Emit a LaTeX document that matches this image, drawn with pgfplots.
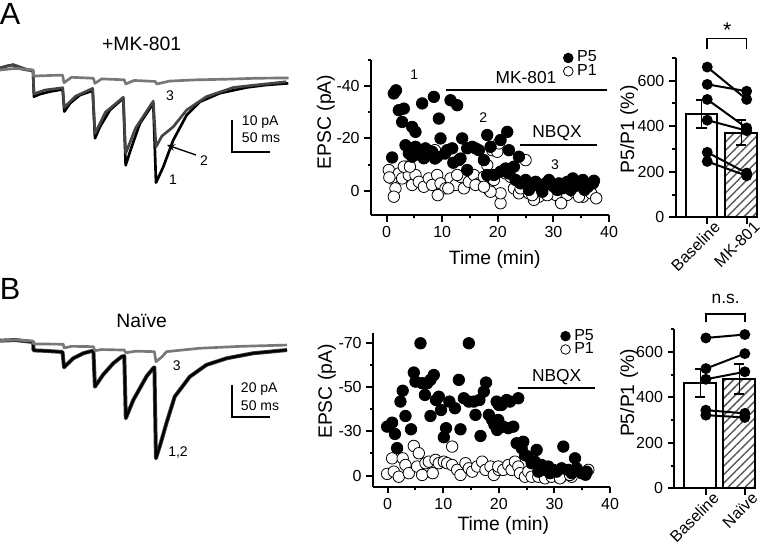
\documentclass[border=0pt]{standalone}
\usepackage{fontspec}
\setmainfont{Liberation Sans}
\usepackage{pgfplots}
\pgfplotsset{compat=1.18}
\usetikzlibrary{patterns.meta,arrows.meta}

\definecolor{tdark}{gray}{0.27}
\definecolor{tlight}{gray}{0.47}
\newcommand\tickf{\fontsize{12}{12}\selectfont}
\newcommand\labf{\fontsize{14.5}{15}\selectfont}
\newcommand\smallf{\fontsize{10.5}{11}\selectfont}

\pgfplotsset{
  prism/.style={
    scale only axis, axis lines*=left, clip=false,
    axis line style={line width=1.5pt},
    tick align=outside, major tick length=5pt, minor tick length=2.5pt,
    every tick/.style={black, line width=1.5pt},
    tick label style={font=\tickf},
    /pgf/number format/assume math mode=true,
    label style={font=\labf},
  },
  catlabels/.style={xticklabel style={xshift=10pt, yshift=2pt, rotate=45, anchor=east}},
  trace/.style={scale only axis, hide axis, clip=false, xmin=0, xmax=385,
    width=217.5pt},
  p5/.style={only marks, mark=*, mark size=4.3pt,
    mark options={fill=black, draw=black, line width=0.6pt}},
  p1/.style={only marks, mark=*, mark size=4.3pt,
    mark options={fill=white, draw=black, line width=0.6pt}},
  leg/.style={
    legend style={draw=none, fill=none, font=\tickf, row sep=0pt,
      nodes={inner sep=0pt, text height=8pt, text depth=2pt},
      /tikz/every odd column/.append style={column sep=3pt}},
    legend cell align=left, reverse legend,
    legend image code/.code={\draw[##1, mark size=3.6pt] plot coordinates {(0.16cm,0cm)};}},
  pair/.style={black, line width=1.5pt, mark=*, mark size=3.3pt},
  tr/.style={line width=2pt, line join=round},
}

\begin{document}
% picture units are pixels of the reference (y downwards); 1 px = 0.75pt
\begin{tikzpicture}[x=0.75pt,y=-0.75pt]
\path[use as bounding box] (0,0) rectangle (766,545);

% ---------- A: traces ----------
\begin{axis}[trace, at={(0pt,-142.5pt)}, anchor=south west, height=105pt,
  ymin=-37.5, ymax=6.6]
\addplot[tr, black] coordinates {(0,0.8)(8,1.5)(17.7,1.9)(26,0.8)(35.4,0.3)(43.8,0.1)
  (45.1,-8.1)(53.1,-7.3)(66.4,-6.5)(83.2,-5.8)(85.4,-12.8)(92.9,-10.2)(106.2,-7.6)(123,-6.2)
  (126.1,-21.2)(132.7,-17.6)(146,-12.3)(163.7,-8.6)(166.8,-29.7)(174.8,-23.9)(185.8,-16.5)
  (203.5,-10.2)(207.1,-35.2)(216.8,-30.2)(230,-21.8)(247.8,-13.9)(265.5,-9.7)(292,-7)
  (327.4,-5.2)(354,-4.4)(382.7,-3.9)};
\addplot[tr, tdark] coordinates {(0,1)(17.7,2)(35.4,0.5)(43.8,0.2)(45.1,-7.2)(60,-6)
  (83.2,-5.3)(85.4,-11.5)(100,-8)(123,-5.5)(126.1,-19.7)(140,-13)(163.7,-8.3)(166.8,-26)
  (180,-18)(203.5,-9.5)(207.1,-23.9)(215,-20.5)(230,-17.6)(247.8,-12.3)(274,-8.1)
  (310,-5.2)(380,-3.4)};
\addplot[tr, tlight] coordinates {(0,0.3)(20,0.8)(44,0.3)(44.5,-1.6)(83,-1.3)(85,-3.7)
  (95,-2)(124,-2.3)(126,-3.9)(135,-2.5)(165,-2.8)(167,-4.1)(178,-3)(206,-3.3)(208,-4.1)
  (225,-3.2)(260,-2.8)(300,-2.6)(340,-2.3)(383,-2.2)};
\addplot[black, line width=1.5pt] coordinates {(308,-15.5)(308,-25.6)(358,-25.6)};
\end{axis}

% ---------- A: time course ----------
\begin{axis}[prism, leg, at={(278.25pt,-161.25pt)}, anchor=south west, width=178.5pt, height=116.25pt,
  xmin=-2.8, xmax=40, ymin=-50, ymax=9.3, y dir=reverse,
  xtick={0,10,20,30,40}, minor xtick={5,15,25,35},
  ytick={-40,-20,0}, yticklabels={-40,-20,0}, minor ytick={-50,-30,-10},
  xlabel={Time (min)}, ylabel={EPSC (pA)},
  xlabel style={at={(axis description cs:0.52,-0.29)}, anchor=center},
  ylabel style={at={(axis description cs:-0.19,0.6)}, anchor=center},
  legend style={at={(0.966,1.075)}, anchor=north east}]
\addplot[p1] coordinates {(0.4,-7.9)(1,-4.7)(1.6,-0.9)(1.3,2.3)(2.2,-6.6)(2.8,-4.7)
  (3.4,-9.2)(4,-6)(4.6,-2.2)(5.2,-6)(5.8,-3.4)(6.7,-1.5)(7.6,-4.7)(8.2,-2.2)(9.1,-6)
  (9.7,-2.8)(10.6,-0.9)(11.5,-4.7)(12.4,-2.2)(13.3,-5.3)(13.9,-0.9)(14.8,-3.4)(15.7,-6)
  (16.6,-2.8)(17.5,-5.3)(18.4,-0.3)(19,-15.5)(19.9,-14.9)(20.5,4.8)(8.7,-15.5)(9.2,1.7)
  (20.2,-18.1)(25,-11.7)(20.5,1)(22.9,-0.9)(23.8,1)(25.6,1)(27.4,2.3)(29.2,0.4)(31.3,3.5)
  (32.5,1.6)(33.7,0.4)(35.3,2.3)(36.8,1)(37.7,2.9)(26.5,3.5)(30.4,1.6)(18.7,0.4)(19.3,-4.1)
  (21.4,-6.6)(22.3,-5.3)(12.7,-6)(11.1,-0.9)(16,-2.2)(17.5,-1.5)(18.1,-9.8)(0.5,-5.1)
  (3.1,-9.2)(4.2,-9.2)(24.1,-0.9)(26.2,1.7)(28.9,1.7)(31.4,4.8)(34.6,2.3)};
\addlegendentry{P1}
\addplot[p5] coordinates {(1.0,-12.7)(1.3,-37.2)(1.7,-38.4)(2.2,-30.8)(3.1,-31.4)
  (2.8,-26.3)(4.6,-24.4)(5.2,-22.5)(3.4,-17.4)(4.0,-14.3)(6.4,-33.4)(8.5,-35.9)(9.4,-27.6)
  (9.7,-20)(11.5,-34.6)(12.7,-32.7)(6.1,-13.6)(7.0,-16.2)(8.2,-14.9)(9.1,-13)(10.9,-15.5)
  (11.8,-16.2)(13.6,-20)(13,-11.7)(14.5,-16.2)(15.4,-16.8)(16.6,-15.5)(18.1,-21.3)
  (17.5,-11.7)(18.7,-16.8)(14.5,-7.9)(18.1,-6.0)(19.3,-6.0)(4.6,-13)(5.2,-16.8)(6.7,-12.4)
  (12.0,-10.7)(16,-16.2)(20.5,-7.3)(8.7,-12.3)(10.5,-14.2)(13.3,-12.3)
  (21.7,-22.5)(20.5,-19.4)(22,-15.5)(22.9,-9.2)(23.8,-13)(22,-6.6)(21.4,-8.5)(23.2,-4.1)
  (24.1,-2.8)(25,-4.1)(25.9,-2.2)(26.8,-3.4)(27.7,-1.5)(28.6,-2.8)(29.2,-4.1)(30.1,-1.5)
  (31,-2.8)(31.6,-0.9)(32.5,-3.4)(33.5,-4.7)(34.4,-2.2)(35.3,-4.1)(36.2,-1.5)(37.1,-2.8)
  (25.6,-0.3)(28,0.4)(30.7,-0.3)(33.1,-0.3)(35.6,-0.3)(37.3,-3.8)};
\addlegendentry{P5}
\addplot[black, line width=1.5pt, forget plot] coordinates {(10.7,-38.4)(39.7,-38.4)};
\addplot[black, line width=1.5pt, forget plot] coordinates {(24,-17.5)(37.8,-17.5)};
\end{axis}

% ---------- A: P5/P1 bars ----------
\begin{axis}[prism, catlabels, at={(506.775pt,-162.975pt)}, anchor=south west, width=61.2pt, height=119.7pt,
  xmin=-0.8, xmax=1.27, ymin=0, ymax=700,
  xtick={0,1}, xticklabels={Baseline,MK-801},
  ytick={0,200,400,600}, minor ytick={100,300,500,700},
  ylabel={P5/P1 (\%)},
  ylabel style={at={(axis description cs:-0.57,0.55)}, anchor=center}]
\addplot[ybar, bar width=0.8, bar shift=0pt, fill=white, draw=black, line width=1.5pt,
  error bars/.cd, y dir=both, y explicit,
  error mark options={rotate=90, mark size=4pt, line width=1.5pt, black}]
  coordinates {(-0.147,453) +- (0,62)};
\addplot[ybar, bar width=0.8, bar shift=0pt, draw=black, line width=1.5pt,
  pattern={Lines[angle=45,distance=4.5pt,line width=1.1pt]}, pattern color=gray!70!black,
  error bars/.cd, y dir=both, y explicit,
  error mark options={rotate=90, mark size=4pt, line width=1.5pt, black}]
  coordinates {(0.86,370) +- (0,55)};
\addplot[pair] coordinates {(0,659)(1,517)};
\addplot[pair] coordinates {(0,583)(1,553)};
\addplot[pair] coordinates {(0,517)(1,392)};
\addplot[pair] coordinates {(0,426)(1,380)};
\addplot[pair] coordinates {(0,285)(1,194)};
\addplot[pair] coordinates {(0,245)(1,182)};
\addplot[black, line width=1.2pt] coordinates {(0,737)(0,785)(1,785)(1,737)};
\end{axis}

% ---------- B: traces ----------
\begin{axis}[trace, at={(0pt,-352.5pt)}, anchor=south west, height=112.5pt,
  ymin=-80.06, ymax=12.8]
\addplot[tr, tdark, line width=3pt] coordinates {(0,0)(20,0.4)(44,-0.8)(44.5,-6)(60,-6.3)
  (83,-7)(85,-16.5)(97,-11)(110.6,-7.8)(121.7,-6.4)(124,-6.4)(126,-28.5)(137,-21)
  (150.4,-14)(161.5,-9.9)(165,-9.5)(167,-48)(177,-36.7)(194.7,-22)(203.5,-17)(205,-16.5)
  (207,-72.8)(213,-64)(221,-51)(232,-34.6)(252,-22.3)(274,-15)(301,-10.9)(336,-7.8)(381,-5.8)};
\addplot[tr, black, line width=1.8pt] coordinates {(0,0)(20,0.4)(44,-0.8)(44.5,-6)(60,-6.3)
  (83,-7)(85,-16.5)(97,-11)(110.6,-7.8)(121.7,-6.4)(124,-6.4)(126,-28.5)(137,-21)
  (150.4,-14)(161.5,-9.9)(165,-9.5)(167,-48)(177,-36.7)(194.7,-22)(203.5,-17)(205,-16.5)
  (207,-72.8)(213,-64)(221,-51)(232,-34.6)(252,-22.3)(274,-15)(301,-10.9)(336,-7.8)(381,-5.8)};
\addplot[tr, tlight] coordinates {(0,0)(20,0.5)(44,-0.3)(44.5,-2)(84,-2.2)(85,-4.5)
  (95,-3.5)(124,-3.7)(126,-6.2)(135,-5.5)(165,-5.8)(167,-7.5)(180,-6.5)(205,-6.8)
  (207,-13)(215,-10)(221,-6.8)(265,-4.7)(320,-3.5)(381,-2.7)};
\addplot[black, line width=1.5pt] coordinates {(308,-27.4)(308,-47.2)(358,-47.2)};
\end{axis}

% ---------- B: time course ----------
\begin{axis}[prism, leg, at={(279.75pt,-365.025pt)}, anchor=south west, width=177.75pt, height=115.05pt,
  xmin=-2.64, xmax=40, ymin=-74.2, ymax=-5, y dir=reverse,
  xtick={0,10,20,30,40}, minor xtick={5,15,25,35},
  ytick={-70,-50,-30,-10}, yticklabels={-70,-50,-30,0}, minor ytick={-60,-40,-20},
  xlabel={Time (min)}, ylabel={EPSC (pA)},
  xlabel style={at={(axis description cs:0.55,-0.25)}, anchor=center},
  ylabel style={at={(axis description cs:-0.195,0.62)}, anchor=center},
  legend style={at={(0.95,1.044)}, anchor=north east}]
\addplot[p1] coordinates {(-0.1,-10.8)(0.8,-17.8)(1.1,-11.8)(2.0,-9.5)(2.7,-17.8)
  (3.2,-14.8)(3.8,-11.1)(4.7,-23.4)(5.6,-20.1)(5.3,-14.1)(6.2,-10.3)(6.8,-15.6)(7.4,-16.3)
  (8.1,-11.1)(8.6,-17.1)(9.2,-15.6)(10.1,-16.3)(10.7,-15.6)(11.6,-23.1)(11.6,-14.8)
  (12.5,-12.6)(13.1,-10.3)(14.0,-15.6)(14.6,-13.3)(15.2,-11.8)(16.1,-14.1)(17.0,-16.3)
  (17.6,-12.6)(18.5,-14.1)(19.1,-10.3)(20,-12.6)(19.9,-14.1)(20.8,-12.6)(21.7,-14.8)
  (22.3,-12.6)(22.9,-16.3)(23.5,-14.1)(23.8,-11.1)(24.7,-9.5)(25.3,-11.8)(25.9,-9.5)
  (27.1,-9.5)(28.3,-8.8)(29.5,-9.5)(31.3,-9.5)(33.1,-9.5)(36.1,-12.6)(31.0,-8.8)(32.8,-10.3)};
\addlegendentry{P1}
\addplot[p5] coordinates {(-0.1,-32.1)(0.8,-33.9)(1.3,-28.8)(1.7,-22.4)(2.3,-43.4)
  (2.7,-48.3)(3.2,-36.9)(4.2,-30.9)(4.7,-56.5)(5.0,-52.4)(5.9,-69.7)(6.2,-51.7)(6.7,-46.4)
  (7.1,-51.7)(7.7,-53.2)(8.3,-55.4)(7.7,-36.9)(8.7,-44.1)(9.2,-45.6)(9.6,-39.6)(10.1,-27.3)
  (10.5,-31.4)(11.1,-43.4)(12.1,-40.4)(12.8,-53.2)(13.1,-30.9)(13.7,-44.9)(14.6,-69.7)
  (14.6,-43.4)(15.5,-43.4)(15.8,-37.4)(16.5,-44.1)(16.7,-27.9)(17.3,-47.9)(17.7,-52)
  (18.2,-37.4)(18.8,-35.1)(19.2,-32.9)(19.7,-30.6)(20.0,-41.9)(19.6,-43.4)(20.5,-41.9)
  (21.4,-44.1)(22.0,-43.4)(23.5,-44.9)(19.9,-35.1)(20.8,-32.1)(21.7,-31.4)(22.6,-32.1)
  (23.2,-24.6)(24.1,-22.4)(24.4,-25.3)(24.7,-19.3)(25.3,-18.6)(26.8,-21.6)(26.5,-16.3)
  (27.7,-14.8)(28.9,-14.1)(29.8,-12.6)(31.6,-23.1)(30.4,-11.8)(31.3,-13.3)(32.5,-12.6)
  (33.7,-17.8)(34.0,-13.3)(34.9,-11.1)(35.8,-11.8)(28.3,-12.6)(25.9,-15.6)(27.1,-11.8)
  (29.2,-11.1)(33.1,-11.1)(35.6,-10.4)};
\addlegendentry{P5}
\addplot[black, line width=1.5pt, forget plot] coordinates {(23.5,-49.4)(37.3,-49.4)};
\end{axis}

% ---------- B: P5/P1 bars ----------
\begin{axis}[prism, catlabels, at={(505.725pt,-366.225pt)}, anchor=south west, width=60.5pt, height=119.25pt,
  xmin=-0.81, xmax=1.26, ymin=0, ymax=700,
  xtick={0,1}, xticklabels={Baseline,Naïve},
  ytick={0,200,400,600}, minor ytick={100,300,500,700},
  ylabel={P5/P1 (\%)},
  ylabel style={at={(axis description cs:-0.56,0.6)}, anchor=center}]
\addplot[ybar, bar width=0.82, bar shift=0pt, fill=white, draw=black, line width=1.5pt,
  error bars/.cd, y dir=both, y explicit,
  error mark options={rotate=90, mark size=4pt, line width=1.5pt, black}]
  coordinates {(-0.154,464) +- (0,62)};
\addplot[ybar, bar width=0.82, bar shift=0pt, draw=black, line width=1.5pt,
  pattern={Lines[angle=45,distance=4.5pt,line width=1.1pt]}, pattern color=gray!70!black,
  error bars/.cd, y dir=both, y explicit,
  error mark options={rotate=90, mark size=4pt, line width=1.5pt, black}]
  coordinates {(0.85,483) +- (0,66)};
\addplot[pair] coordinates {(0,662)(1,677)};
\addplot[pair] coordinates {(0,527)(1,593)};
\addplot[pair] coordinates {(0,480)(1,513)};
\addplot[pair] coordinates {(0,344)(1,330)};
\addplot[pair] coordinates {(0,322)(1,312)};
\addplot[black, line width=1.2pt] coordinates {(0,733)(0,767)(1,767)(1,733)};
\end{axis}

% ---------- text ----------
\node[font=\fontsize{23}{23}\selectfont, inner sep=0pt] at (10,14) {A};
\node[font=\fontsize{23}{23}\selectfont, inner sep=0pt] at (10,288.5) {B};
\node[font=\labf, inner sep=0pt] at (141.7,44) {+MK-801};
\node[font=\labf, inner sep=0pt] at (141.7,321) {Naïve};
\node[font=\smallf, inner sep=0pt] at (170,96) {3};
\node[font=\smallf, inner sep=0pt] at (204,161) {2};
\node[font=\smallf, inner sep=0pt] at (173,180) {1};
\draw[-{Stealth[length=6pt,width=5pt]}, line width=1pt] (196,155) -- (167,145);
\node[font=\smallf, inner sep=0pt, anchor=west] at (241.7,122) {10 pA};
\node[font=\smallf, inner sep=0pt, anchor=west] at (241.7,138) {50 ms};
\node[font=\smallf, inner sep=0pt] at (176.7,366) {3};
\node[font=\smallf, inner sep=0pt] at (178,453) {1,2};
\node[font=\smallf, inner sep=0pt, anchor=west] at (240.7,389) {20 pA};
\node[font=\smallf, inner sep=0pt, anchor=west] at (240.7,406) {50 ms};
\node[font=\smallf, inner sep=0pt] at (414.3,75) {1};
\node[font=\smallf, inner sep=0pt] at (483.3,117.3) {2};
\node[font=\smallf, inner sep=0pt] at (555,165) {3};
\node[font=\fontsize{13}{13}\selectfont, inner sep=0pt] at (526,78) {MK-801};
\node[font=\fontsize{13}{13}\selectfont, inner sep=0pt] at (557,133) {NBQX};
\node[font=\fontsize{13}{13}\selectfont, inner sep=0pt] at (556.7,376.7) {NBQX};
\node[font=\fontsize{16}{16}\selectfont, inner sep=0pt] at (727.3,30) {*};
\node[font=\fontsize{13}{13}\selectfont, inner sep=0pt] at (725.7,299) {n.s.};
\end{tikzpicture}
\end{document}
